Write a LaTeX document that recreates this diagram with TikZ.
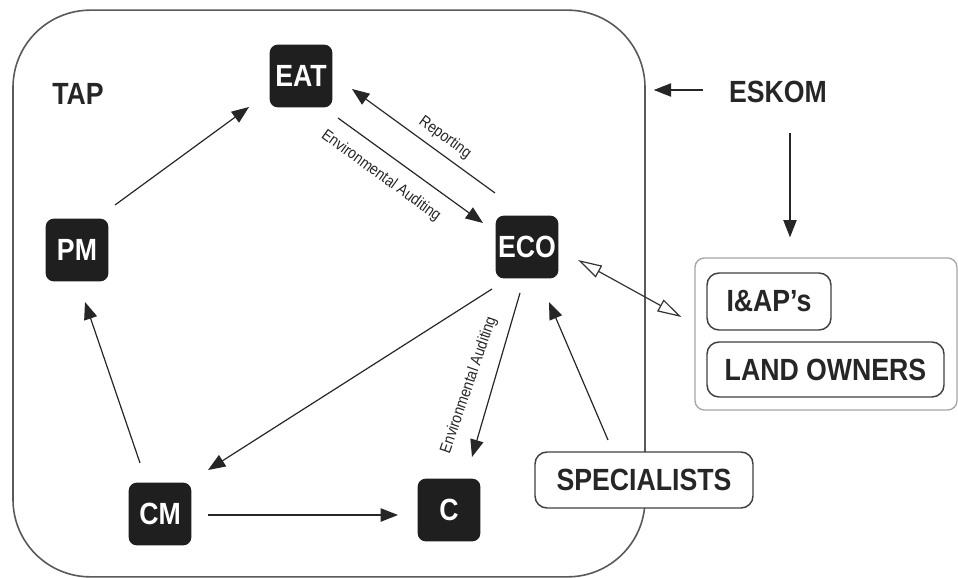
\documentclass[tikz,border=0pt]{standalone}
\usepackage{fontspec}
\setmainfont{Liberation Sans}
\newfontfamily\boxfont{Liberation Sans}[FakeStretch=0.87]
\usetikzlibrary{arrows.meta,calc}
\begin{document}
\begin{tikzpicture}[x=0.75pt,y=-0.75pt,
  blk/.style={fill=black!88, text=white, rounded corners=6pt, minimum width=47pt, minimum height=47pt, inner sep=0pt, font=\boxfont\fontsize{23}{27}\selectfont\bfseries},
  wbox/.style={draw=black!75, line width=1.1pt, fill=white, rounded corners=9pt, inner sep=0pt, text=black!85, font=\boxfont\fontsize{23}{27}\selectfont\bfseries},
  plain/.style={inner sep=0pt, text=black!85, font=\boxfont\fontsize{23}{27}\selectfont\bfseries},
  lab/.style={inner sep=0pt, text=black!85, font=\boxfont\fontsize{12}{14}\selectfont},
  arr/.style={-{Triangle[length=13pt,width=10pt]}, line width=0.9pt, draw=black!85},
  oarr/.style={{Triangle[open,length=18pt,width=10pt]}-{Triangle[open,length=18pt,width=10pt]}, line width=0.9pt, draw=black!80}
]
\useasboundingbox (0,0) rectangle (958,578);
% big TAP frame
\node[draw=black!65, line width=1.2pt, rounded corners=58pt, minimum width=474pt, minimum height=425pt, inner sep=0pt] (tap) at (329,293.5) {};
\node[plain] (taplabel) at (78,94) {TAP};
% black nodes
\node[blk] (EAT) at (301,76) {EAT};
\node[blk] (PM) at (77,250) {PM};
\node[blk] (ECO) at (527,247) {ECO};
\node[blk] (CM) at (160,514) {CM};
\node[blk] (C) at (449,510) {C};
% outside
\node[plain] (ESKOM) at (778,92) {ESKOM};
\node[draw=black!35, line width=1pt, rounded corners=7pt, minimum width=196.5pt, minimum height=114pt, inner sep=0pt] (grp) at (826,334) {};
\node[wbox, minimum width=93pt, minimum height=42.75pt] (IAP) at (769,301.5) {I\&AP’s};
\node[wbox, minimum width=177.75pt, minimum height=41.25pt] (LAND) at (825.5,369.5) {LAND OWNERS};
\node[wbox, minimum width=163.5pt, minimum height=42pt] (SPEC) at (644,480) {SPECIALISTS};
% connectors
\draw[arr] ([shift={(38,-45)}]PM.center) -- ([shift={(-52,31)}]EAT.center);
\draw[arr] ([shift={(37,42)}]EAT.center) -- ([shift={(-44,-24)}]ECO.center);
\draw[arr] ([shift={(-32,-54)}]ECO.center) -- ([shift={(51,13)}]EAT.center);
\draw[arr] ([shift={(-35,42)}]ECO.center) -- ([shift={(48,-44)}]CM.center);
\draw[arr] ([shift={(-7,46)}]ECO.center) -- ([shift={(23,-53)}]C.center);
\draw[arr] ([shift={(-36,-40)}]SPEC.center) -- ([shift={(22,55)}]ECO.center);
\draw[arr] ([shift={(-20,-51)}]CM.center) -- ([shift={(8,52)}]PM.center);
\draw[arr] ([shift={(48,1)}]CM.center) -- ([shift={(-51,5)}]C.center);
\draw[oarr] ([shift={(51,13)}]ECO.center) -- ([shift={(-13,-17)}]grp.west);
\draw[arr] ([shift={(-75,-2)}]ESKOM.center) -- ($(tap.east |- ESKOM.center)+(8,-2)$);
\draw[arr] ([shift={(12,41)}]ESKOM.center) -- ([shift={(-36,-20)}]grp.north);
% labels
\node[lab, rotate=-36] (rep) at (445,137.5) {Reporting};
\node[lab, rotate=-36] (ea1) at (381,176) {Environmental Auditing};
\node[lab, rotate=71] (ea2) at (469,385) {Environmental Auditing};
\end{tikzpicture}
\end{document}
